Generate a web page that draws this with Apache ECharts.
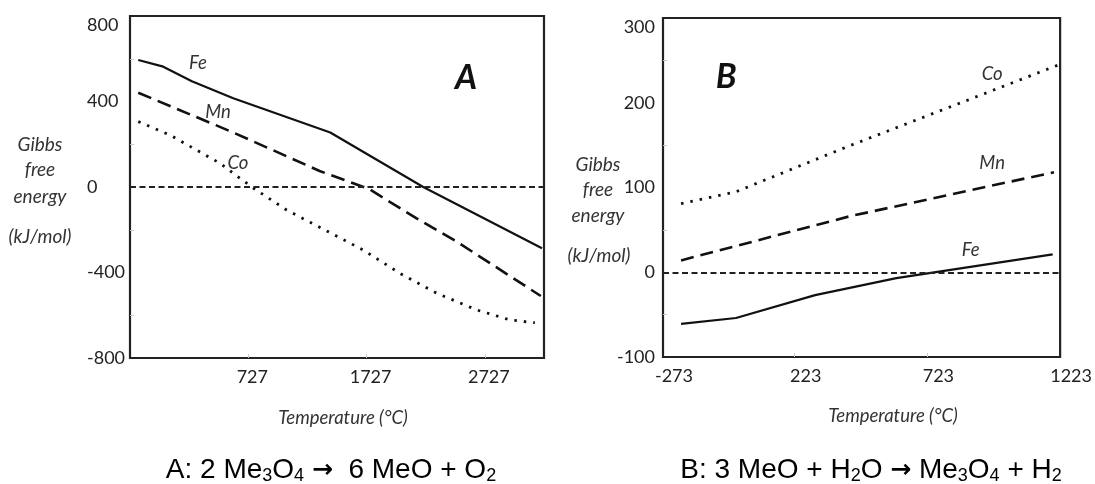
<!DOCTYPE html>
<html><head><meta charset="utf-8">
<script src="https://cdn.jsdelivr.net/npm/echarts@6/dist/echarts.min.js"></script>
<style>html,body{margin:0;padding:0;background:#fff}#c{width:1095px;height:484px}</style>
</head><body><div id="c"></div>
<script>
// ---- Chart A: 2 Me3O4 -> 6 MeO + O2   ([temperature °C, Gibbs free energy kJ/mol])
const feA = [[-203,594],[8,563],[250,495],[600,415],[1420,255],[2206,0],[3210,-287]];
const mnA = [[-203,441],[600,255],[1330,75],[1750,-10],[2150,-147],[2490,-256],[3200,-510]];
const coA = [[-203,306],[65,243],[488,111],[756,0],[1052,-108],[1375,-201],[1699,-295],[2009,-404],[2320,-497],[2658,-575],[2939,-622],[3150,-635]];
// ---- Chart B: 3 MeO + H2O -> Me3O4 + H2
const feB = [[-205,-61],[2,-54],[300,-27],[606,-7],[1195,21]];
const mnB = [[-205,14],[430,66],[1200,118]];
const coB = [[-205,81],[2,95],[420,148],[1220,245]];

// ---- Tick labels / tick marks
const xLabelsA = [727,1727,2727];
const yLabelsA = [-800,-400,0,400,800];
const yMarksA  = [-600,-200,200,600];
const xLabelsB = [-273,223,723,1223];
const xMarksB  = [223,723];
const yLabelsB = [-100,0,100,200,300];
const yMarksB  = [-50,50,150,250];

const TXT = '#222';
const tickFont = {fontFamily:'Lato', fontSize:18, color:TXT};
const lineCol = '#111';
const plain = v => String(v);

function xAxis(idx, min, max, labels, marks, pad){
  return {gridIndex:idx, type:'value', min:min, max:max,
    axisLine:{show:false, onZero:false}, splitLine:{show:false},
    axisTick:{show:true, inside:true, length:4, customValues:marks, lineStyle:{color:'#c8c8c8'}},
    axisLabel:Object.assign({customValues:labels, formatter:plain, margin:10, padding:[0,0,0,pad]}, tickFont)};
}
function yAxis(idx, min, max, labels, marks, align, margin){
  return {gridIndex:idx, type:'value', min:min, max:max,
    axisLine:{show:false, onZero:false}, splitLine:{show:false},
    axisTick:{show:true, inside:true, length:4, customValues:marks, lineStyle:{color:'#c8c8c8'}},
    axisLabel:Object.assign({customValues:labels, formatter:plain, align:align, margin:margin, verticalAlignMaxLabel:'top'}, tickFont)};
}
const lblStyle = {show:true, position:'inside', formatter:'{b}', color:'#333', fontFamily:'Lato', fontStyle:'italic', fontSize:18.5};
const bigLbl = {show:true, position:'inside', formatter:'{b}', color:'#111', fontFamily:'Lato', fontStyle:'italic', fontWeight:'bold', fontSize:34};
function mp(items){ return {symbol:'circle', symbolSize:0, silent:true, label:lblStyle, data:items}; }
const zeroLine = {silent:true, symbol:'none', label:{show:false}, lineStyle:{type:[6,3.5], color:'#222', width:2}, data:[{yAxis:0}]};

function line(name, data, xi, type, width, extra){
  return Object.assign({name:name, type:'line', xAxisIndex:xi, yAxisIndex:xi, data:data,
    showSymbol:false, silent:true, lineStyle:{color:lineCol, width:width, type:type, cap:'butt'}}, extra||{});
}

const subRich = {
  s:{fontFamily:'Liberation Sans', fontSize:18, lineHeight:14, verticalAlign:'bottom', fill:'#000'},
  r:{fontFamily:'DejaVu Sans', fontWeight:'bold', fontSize:25, fill:'#000'}
};
function caption(x, text){
  return {type:'text', x:x, y:470, style:{text:text, fontFamily:'Liberation Sans', fontSize:28, lineHeight:30,
    fill:'#000', align:'center', verticalAlign:'middle', rich:subRich}};
}
function t(x, y, s, size){
  return {type:'text', x:x, y:y, style:{text:s, fontFamily:'Lato', fontStyle:'italic', fontSize:size||19, fill:'#333', align:'center', verticalAlign:'middle'}};
}

const chart = echarts.init(document.getElementById('c'), null, {renderer:'canvas'});
chart.setOption({
  animation:false,
  backgroundColor:'#fff',
  grid:[
    {left:130, top:16, width:414, height:342, show:true, borderColor:'#222', borderWidth:2.2, backgroundColor:'transparent'},
    {left:663, top:18, width:409, height:339, show:true, borderColor:'#222', borderWidth:2.2, backgroundColor:'transparent'}
  ],
  xAxis:[ xAxis(0,-273,3227,xLabelsA,xLabelsA,8), xAxis(1,-273,1223,xLabelsB,xMarksB,22) ],
  yAxis:[ yAxis(0,-800,800,yLabelsA,yMarksA,'left',43), yAxis(1,-100,300,yLabelsB,yMarksB,'right',8) ],
  series:[
    line('Fe A', feA, 0, 'solid', 2.2, {markLine:zeroLine,
      markPoint:mp([{name:'Fe', coord:[302,580]}, {name:'A', coord:[2567,510], label:bigLbl}])}),
    line('Mn A', mnA, 0, [14,7], 2.6, {markPoint:mp([{name:'Mn', coord:[471,351]}])}),
    line('Co A', coA, 0, [2.5,7], 2.8, {markPoint:mp([{name:'Co', coord:[640,112]}])}),
    line('Fe B', feB, 1, 'solid', 2.2, {markLine:zeroLine,
      markPoint:mp([{name:'Fe', coord:[886,26]}, {name:'B', coord:[-35,230], label:bigLbl}])}),
    line('Mn B', mnB, 1, [13,7], 2.6, {markPoint:mp([{name:'Mn', coord:[967,129]}])}),
    line('Co B', coB, 1, [2.5,7], 2.8, {markPoint:mp([{name:'Co', coord:[967,234]}])})
  ],
  graphic:[
    t(40,145,'Gibbs'), t(40,170,'free'), t(40,197,'energy'), t(40,237,'(kJ/mol)'),
    t(598,165,'Gibbs'), t(598,190,'free'), t(598,216,'energy'), t(599,256,'(kJ/mol)'),
    t(343,418,'Temperature (°C)',18.5), t(893,416,'Temperature (°C)',18.5),
    caption(331, 'A: 2 Me{s|3}O{s|4} {r|→}  6 MeO + O{s|2}'),
    caption(871, 'B: 3 MeO + H{s|2}O {r|→} Me{s|3}O{s|4} + H{s|2}')
  ]
});
</script></body></html>
